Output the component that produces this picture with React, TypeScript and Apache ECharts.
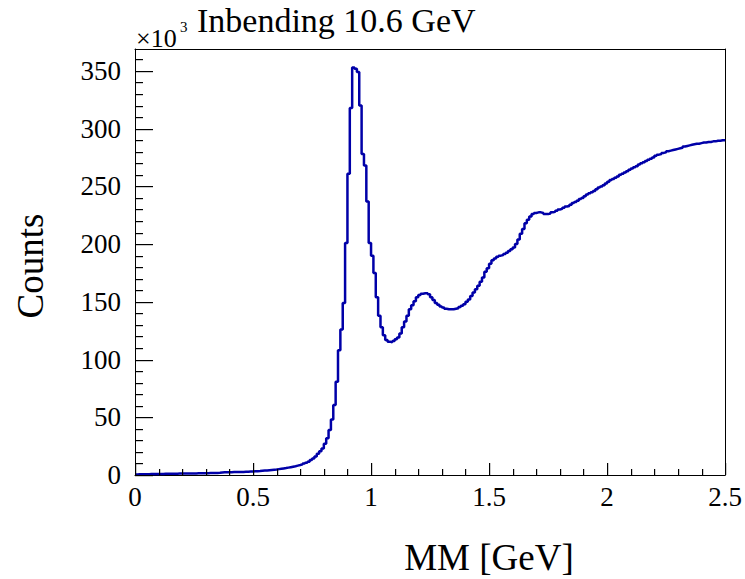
import React, { useEffect, useRef } from "react";
import * as echarts from "echarts";

// Histogram: 250 bins of width 0.01 GeV from 0 to 2.5 GeV; counts in units of 10^3
const xMin = 0;
const binWidth = 0.01;
const counts: number[] = [
  // 0.00 - 0.09
  0.5, 0.6, 0.6, 0.7, 0.7, 0.7, 0.8, 0.8, 0.8, 0.9,
  // 0.10 - 0.19
  0.9, 0.9, 1.0, 1.0, 1.0, 1.1, 1.1, 1.1, 1.2, 1.2,
  // 0.20 - 0.29
  1.2, 1.3, 1.3, 1.3, 1.4, 1.4, 1.5, 1.5, 1.5, 1.6,
  // 0.30 - 0.39
  1.6, 1.7, 1.7, 1.8, 1.8, 1.9, 2.2, 2.3, 2.3, 2.4,
  // 0.40 - 0.49
  2.4, 2.5, 2.5, 2.6, 2.6, 2.7, 2.8, 2.9, 3.0, 3.1,
  // 0.50 - 0.59
  3.2, 3.3, 3.4, 3.6, 3.8, 4.0, 4.2, 4.4, 4.6, 4.8,
  // 0.60 - 0.69
  5.1, 5.4, 5.7, 6.0, 6.4, 6.8, 7.2, 7.6, 8.1, 8.6,
  // 0.70 - 0.79
  9.2, 9.9, 10.6, 11.5, 13.0, 14.2, 16.0, 18.5, 20.5, 23.0,
  // 0.80 - 0.89
  27, 31.8, 39, 48, 60.6, 80.8, 108, 126, 149, 201,
  // 0.90 - 0.99
  261, 318, 353, 352, 349, 320, 278, 268, 237, 201,
  // 1.00 - 1.09
  190, 175, 154, 138, 128, 121, 117, 115.5, 115, 116,
  // 1.10 - 1.19
  117.5, 119, 122.5, 128, 133, 138, 143.5, 147, 150.5, 154,
  // 1.20 - 1.29
  156, 157, 157.5, 157.5, 156.5, 154, 151.5, 149, 147.5, 146,
  // 1.30 - 1.39
  145, 144, 143.5, 143.5, 143.5, 144, 144.5, 145.5, 146.5, 148,
  // 1.40 - 1.49
  150, 152, 155, 158, 161, 164, 167.5, 171, 176, 179,
  // 1.50 - 1.59
  183, 186, 187.5, 189, 190, 190.5, 191.5, 192.5, 194, 195.5,
  // 1.60 - 1.69
  197, 200, 204, 209, 213, 218, 221, 224, 226, 227,
  // 1.70 - 1.79
  227.5, 227.5, 227, 226, 226, 226.5, 227.5, 228, 229, 230,
  // 1.80 - 1.89
  230.5, 231.5, 232.5, 233, 234, 235.5, 236.5, 237.5, 239, 240,
  // 1.90 - 1.99
  241.5, 243, 244, 245, 246, 247.5, 249, 250, 251, 252.5,
  // 2.00 - 2.09
  254, 255.5, 256.5, 257.5, 258.5, 260, 261, 262, 263, 264.5,
  // 2.10 - 2.19
  265.5, 266.5, 267.5, 269, 270, 271, 272, 273, 274, 275,
  // 2.20 - 2.29
  276.5, 277.5, 278, 279, 279.5, 280.5, 281, 281.5, 282, 282.5,
  // 2.30 - 2.39
  283, 283.5, 284.5, 285, 285.5, 286, 286.5, 287, 287, 287.5,
  // 2.40 - 2.49
  288, 288, 288.5, 288.5, 289, 289, 289.5, 289.5, 290, 290,
];

// Axis tick values
const xTicks = [0, 0.5, 1, 1.5, 2, 2.5];
const yTicks = [0, 50, 100, 150, 200, 250, 300, 350];
const xMinorStep = 0.1;
const yMinorStep = 10;
const yMax = 369;

const titleText = "Inbending 10.6 GeV";
const xTitle = "MM [GeV]";
const yTitle = "Counts";

const FONT = "'Liberation Serif', 'DejaVu Serif', serif";

// tick kinds: 0 = x major, 1 = x minor, 2 = y major, 3 = y minor
const TICK_LEN = [12, 6, 18, 8];

export default function App() {
  const ref = useRef<HTMLDivElement>(null);

  useEffect(() => {
    if (!ref.current) return;
    const chart = echarts.init(ref.current, undefined, { renderer: "svg" });

    // bin left edges + final right edge
    const data: [number, number][] = counts.map((v, i) => [
      +(xMin + i * binWidth).toFixed(4),
      v,
    ]);
    data.push([+(xMin + counts.length * binWidth).toFixed(4), counts[counts.length - 1]]);

    // tick list (value, kind)
    const tickData: [number, number][] = [];
    const xEnd = xTicks[xTicks.length - 1];
    for (let k = 0; xTicks[0] + k * xMinorStep <= xEnd + 1e-9; k++) {
      const v = +(xTicks[0] + k * xMinorStep).toFixed(4);
      tickData.push([v, xTicks.some((t) => Math.abs(t - v) < 1e-9) ? 0 : 1]);
    }
    for (let v = 0; v <= yMax; v += yMinorStep) {
      tickData.push([v, yTicks.includes(v) ? 2 : 3]);
    }

    const frameAxis = {
      axisLine: { show: true, onZero: false, lineStyle: { color: "#000", width: 1 } },
      axisTick: { show: false },
      minorTick: { show: false },
      axisLabel: { show: false },
      splitLine: { show: false },
    };

    const texts: any[] = [
      {
        type: "text",
        left: 197,
        top: 3,
        style: { text: titleText, font: `34px ${FONT}`, fill: "#000" },
      },
      {
        type: "text",
        left: 136,
        top: 25,
        style: { text: "×10", font: `26px ${FONT}`, fill: "#000" },
      },
      {
        type: "text",
        left: 180,
        top: 19,
        style: { text: "3", font: `15px ${FONT}`, fill: "#000" },
      },
      {
        type: "text",
        x: 489,
        y: 557,
        style: {
          text: xTitle,
          font: `37px ${FONT}`,
          fill: "#000",
          align: "center",
          verticalAlign: "middle",
        },
      },
      {
        type: "text",
        x: 30,
        y: 266,
        rotation: Math.PI / 2,
        style: {
          text: yTitle,
          font: `37px ${FONT}`,
          fill: "#000",
          align: "center",
          verticalAlign: "middle",
        },
      },
    ];

    chart.setOption({
      animation: false,
      backgroundColor: "#ffffff",
      grid: {
        left: 135,
        top: 49,
        width: 591,
        height: 426,
      },
      xAxis: [
        {
          type: "value",
          min: xTicks[0],
          max: xEnd,
          interval: 0.5,
          position: "bottom",
          axisLine: { show: true, onZero: false, lineStyle: { color: "#000", width: 1 } },
          axisTick: { show: false },
          minorTick: { show: false },
          splitLine: { show: false },
          axisLabel: {
            color: "#000",
            fontFamily: FONT,
            fontSize: 27,
            margin: 8,
          },
        },
        {
          type: "value",
          min: xTicks[0],
          max: xEnd,
          position: "top",
          ...frameAxis,
        },
      ],
      yAxis: [
        {
          type: "value",
          min: 0,
          max: yMax,
          interval: 50,
          position: "left",
          axisLine: { show: true, onZero: false, lineStyle: { color: "#000", width: 1 } },
          axisTick: { show: false },
          minorTick: { show: false },
          splitLine: { show: false },
          axisLabel: {
            color: "#000",
            fontFamily: FONT,
            fontSize: 27,
            margin: 14,
            showMaxLabel: false,
          },
        },
        {
          type: "value",
          min: 0,
          max: yMax,
          position: "right",
          ...frameAxis,
        },
      ],
      series: [
        {
          type: "line",
          step: "end",
          data,
          xAxisIndex: 0,
          yAxisIndex: 0,
          symbol: "none",
          lineStyle: { color: "#0000a8", width: 2.5 },
        },
      ],
      graphic: texts,
    });

    // Ticks placed through the axes' own scales, drawn as thin filled rects
    const x0 = Math.round(chart.convertToPixel({ xAxisIndex: 0 }, xTicks[0]) as number);
    const y0 = Math.round(chart.convertToPixel({ yAxisIndex: 0 }, 0) as number);
    const tickRects = tickData.map(([v, kind]) => {
      const len = TICK_LEN[kind];
      if (kind <= 1) {
        const px = Math.round(chart.convertToPixel({ xAxisIndex: 0 }, v) as number);
        return {
          type: "rect",
          z: 100,
          silent: true,
          shape: { x: px, y: y0 - len, width: 1.2, height: len },
          style: { fill: "#000" },
        };
      }
      const py = Math.round(chart.convertToPixel({ yAxisIndex: 0 }, v) as number);
      return {
        type: "rect",
        z: 100,
        silent: true,
        shape: { x: x0, y: py, width: len, height: 1.2 },
        style: { fill: "#000" },
      };
    });

    chart.setOption({ graphic: [...texts, ...tickRects] });

    return () => chart.dispose();
  }, []);

  return (
    <div
      ref={ref}
      style={{ position: "absolute", left: 0, top: 0, width: 745, height: 579 }}
    />
  );
}
